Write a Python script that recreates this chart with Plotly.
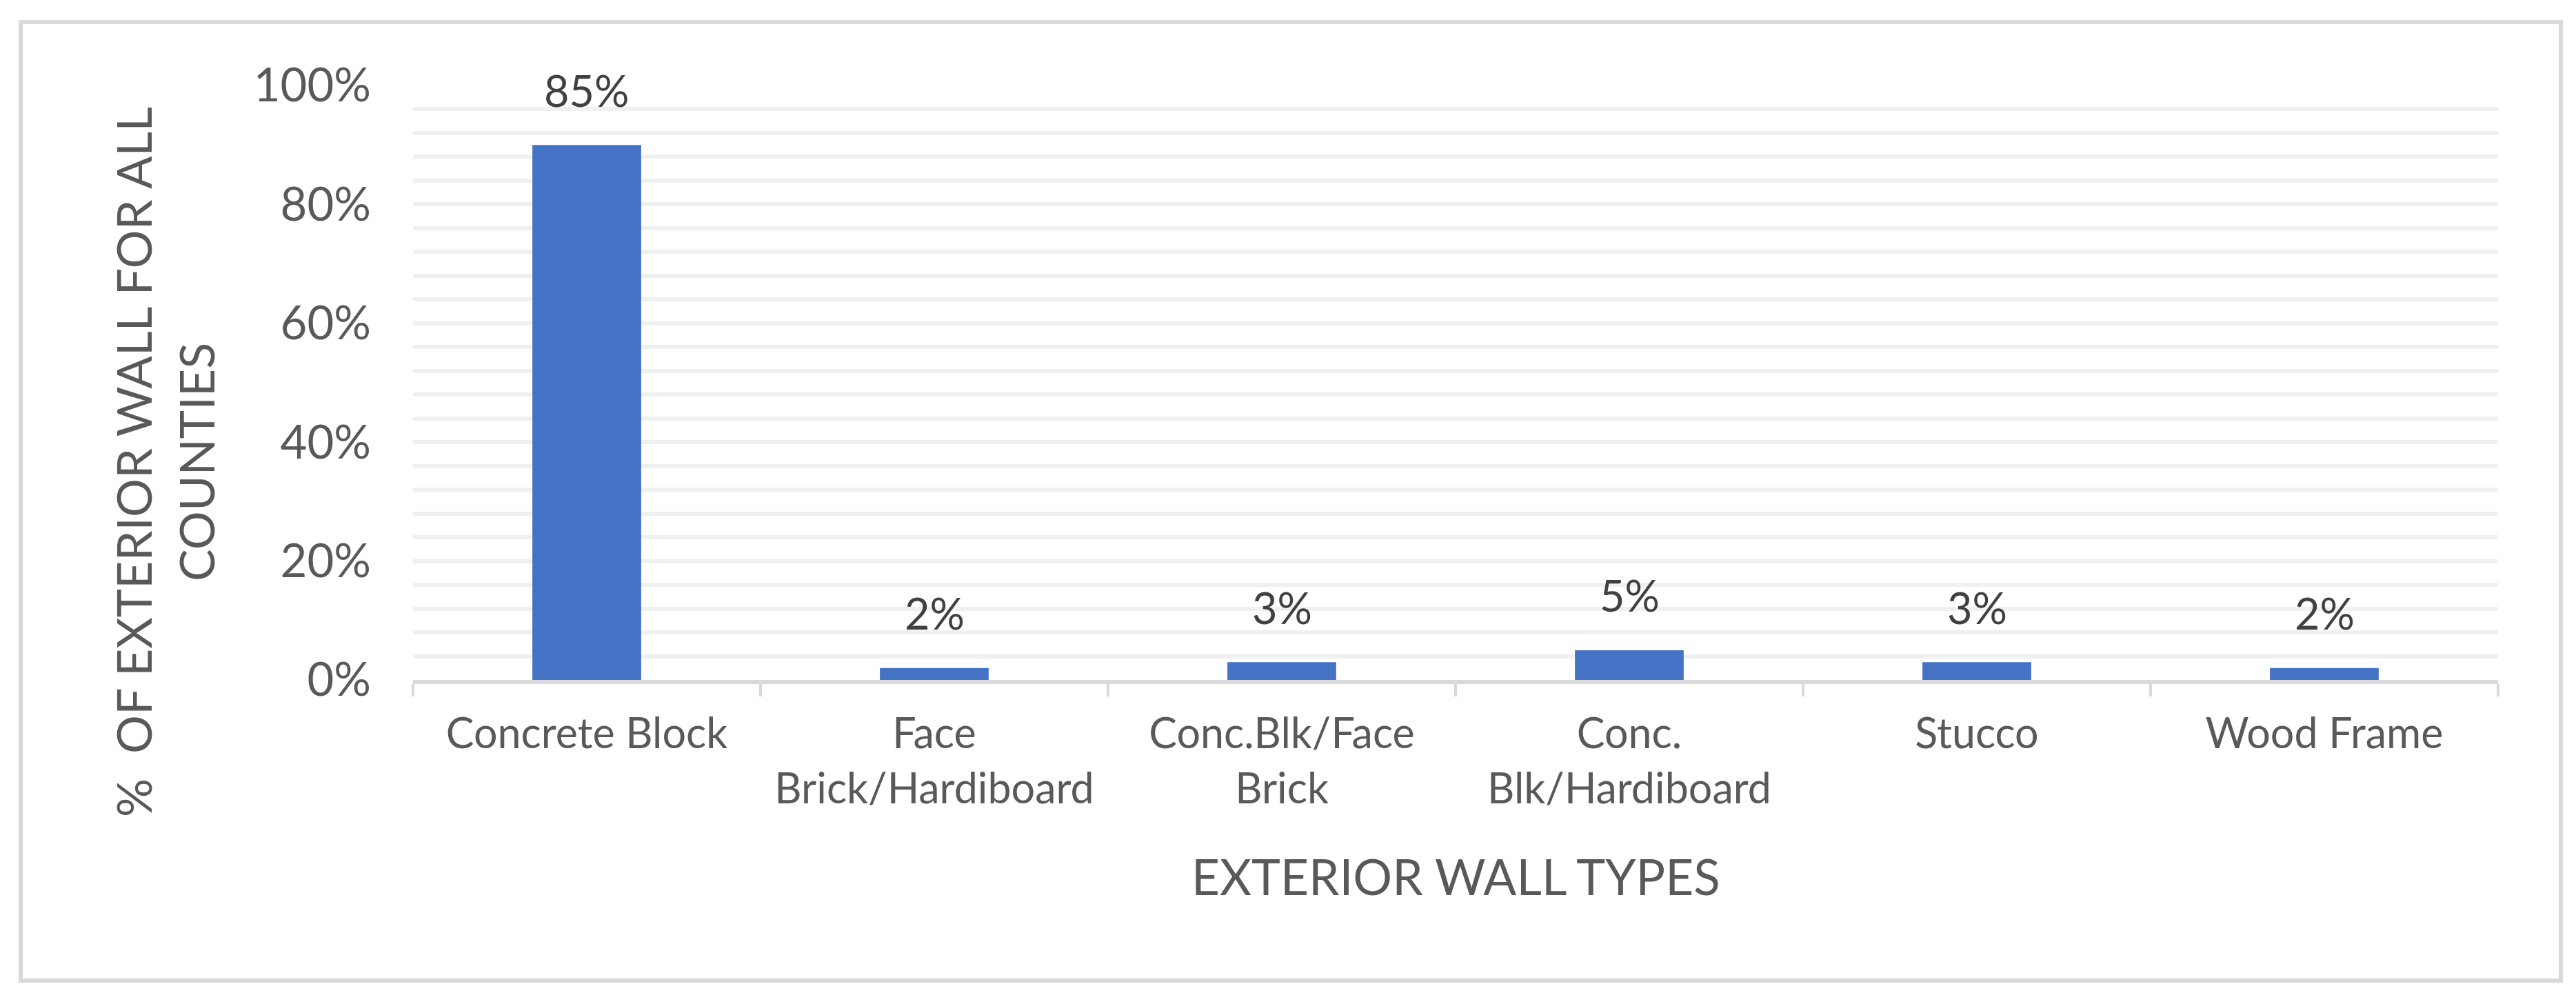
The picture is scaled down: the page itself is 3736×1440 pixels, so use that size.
"""
Exterior wall types - share of all counties (bar chart).
"""

import plotly.graph_objects as go

CATEGORIES = [
    "Concrete Block",
    "Face Brick/Hardiboard",
    "Conc.Blk/Face Brick",
    "Conc. Blk/Hardiboard",
    "Stucco",
    "Wood Frame",
]
TICK_LABELS = [
    "Concrete Block",
    "Face<br>Brick/Hardiboard",
    "Conc.Blk/Face<br>Brick",
    "Conc.<br>Blk/Hardiboard",
    "Stucco",
    "Wood Frame",
]
SHARE = [90, 2, 3, 5, 3, 2]  # bar heights as drawn
SHARE_LABELS = ["85%", "2%", "3%", "5%", "3%", "2%"]  # labels as printed
Y_TICKS = [0, 20, 40, 60, 80, 100]

W, H = 3736, 1440
L, R, T, B = 591, 121, 116, 462
PW, PH = W - L - R, H - T - B

FONT = "Lato, 'Noto Sans', sans-serif"
BAR = "#4472C4"
GRID = "#f0f0f0"
AXIS = "#d9d9d9"


def px_x(x):
    return (x - L) / PW


def px_y(y):
    return (H - B - y) / PH


def main():
    fig = go.Figure(go.Bar(
        x=CATEGORIES, y=SHARE,
        marker=dict(color=BAR, line=dict(width=0)),
        hoverinfo="skip",
    ))

    # data labels
    for cat, val, lab in zip(CATEGORIES, SHARE, SHARE_LABELS):
        fig.add_annotation(
            x=cat, y=val, text=lab, showarrow=False,
            yanchor="middle", yshift=80,
            font=dict(family=FONT, size=63, color="#404040"),
        )

    # axis titles
    fig.add_annotation(
        xref="paper", yref="paper", x=px_x(231), y=px_y(662),
        text="%  OF EXTERIOR WALL FOR ALL<br>COUNTIES", textangle=-90,
        showarrow=False, xanchor="center", yanchor="middle",
        font=dict(family=FONT, size=70, color="#595959"),
    )
    fig.add_annotation(
        xref="paper", yref="paper", x=0.5, y=px_y(1262),
        text="EXTERIOR WALL TYPES", showarrow=False,
        xanchor="center", yanchor="middle",
        font=dict(family=FONT, size=71, color="#595959"),
    )

    # chart border
    fig.add_shape(
        type="rect", xref="paper", yref="paper",
        x0=px_x(22), x1=px_x(3706), y0=px_y(1414), y1=px_y(24),
        line=dict(color=AXIS, width=6), fillcolor="rgba(0,0,0,0)",
    )

    fig.update_layout(
        width=W, height=H,
        margin=dict(l=L, r=R, t=T, b=B),
        paper_bgcolor="white", plot_bgcolor="white",
        bargap=0.687, showlegend=False,
        font=dict(family=FONT, color="#595959"),
    )
    fig.update_xaxes(
        tickmode="array", tickvals=CATEGORIES, ticktext=TICK_LABELS,
        tickfont=dict(family=FONT, size=61, color="#595959"),
        showline=True, linecolor=AXIS, linewidth=6,
        ticks="outside", tickson="boundaries", ticklen=18, tickwidth=4,
        tickcolor=AXIS, ticklabelstandoff=20, showgrid=False,
    )
    fig.update_yaxes(
        range=[0, 100], tickmode="array", tickvals=Y_TICKS,
        ticktext=[f"{v}%" for v in Y_TICKS],
        tickfont=dict(family=FONT, size=67, color="#595959"),
        showgrid=True, gridcolor=GRID, gridwidth=6,
        minor=dict(dtick=4, tick0=0, showgrid=True, gridcolor=GRID, gridwidth=6),
        zeroline=False, showline=False, ticks="", ticklabelstandoff=60,
    )

    fig.write_html("out.html")


if __name__ == "__main__":
    main()
